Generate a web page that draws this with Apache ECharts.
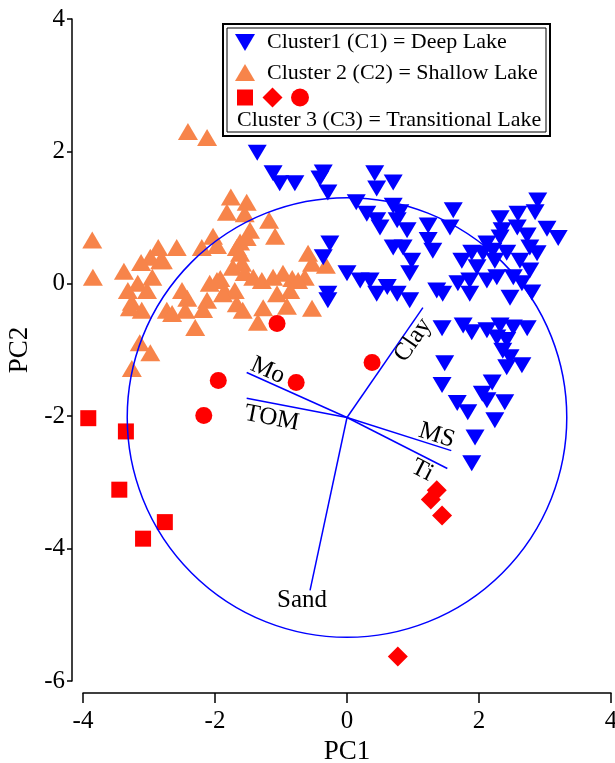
<!DOCTYPE html>
<html><head><meta charset="utf-8">
<script src="https://cdn.jsdelivr.net/npm/echarts@6/dist/echarts.min.js"></script>
<style>html,body{margin:0;padding:0;background:#fff}#c{width:615px;height:763px}</style>
</head><body><div id="c"></div>
<script>
// ---- data (PC1, PC2) ----
const xRange=[-4,4], yRange=[-6,4], tickStep=2;
const cluster1=[ // Deep Lake
[-1.36,1.98],[-1.12,1.67],[-1.02,1.52],[-0.79,1.52],[-0.36,1.68],[-0.41,1.59],[-0.29,1.38],
[0.42,1.67],[0.45,1.44],[0.70,1.53],[0.14,1.23],[0.30,1.06],[0.45,0.96],[0.70,1.18],[0.80,1.08],
[0.50,0.85],[0.76,0.96],[0.91,0.81],[1.23,0.88],[0.70,0.55],[0.85,0.55],[0.98,0.35],[0.95,0.16],
[1.23,0.66],[1.30,0.50],[-0.26,0.61],[-0.36,0.40],[0.00,0.16],[0.20,0.05],[0.35,0.05],[0.45,-0.15],
[0.61,-0.05],[0.76,-0.15],[0.95,-0.25],[-0.29,-0.15],[-0.29,-0.25],[1.36,-0.10],[1.61,1.11],[1.56,0.85],
[2.89,1.26],[2.85,1.08],[2.59,1.06],[2.32,0.99],[2.35,0.81],[2.58,0.85],[3.03,0.83],[3.20,0.69],
[2.73,0.73],[2.12,0.61],[1.89,0.47],[1.74,0.35],[1.97,0.25],[2.24,0.35],[2.42,0.47],[2.62,0.35],
[2.77,0.20],[2.65,0.01],[2.80,-0.13],[2.47,-0.21],[2.27,0.10],[2.12,0.05],[1.86,0.05],[1.68,0.01],
[1.45,-0.15],[1.86,-0.15],[2.77,0.55],[2.88,0.46],[2.52,0.10],[2.32,0.70],[2.06,0.46],[2.21,0.50],
[1.44,-0.67],[1.76,-0.63],[1.89,-0.73],[2.12,-0.70],[2.32,-0.63],[2.52,-0.66],[2.73,-0.67],[2.27,-0.81],
[2.42,-0.85],[2.36,-1.01],[2.47,-1.11],[2.65,-1.23],[2.42,-1.26],[1.48,-1.20],[1.44,-1.53],[1.67,-1.80],
[1.83,-1.94],[2.20,-1.49],[2.05,-1.66],[2.12,-1.76],[2.39,-1.79],[2.24,-2.06],[1.94,-2.32],[1.89,-2.71]
];
const cluster2=[ // Shallow Lake
[-2.41,2.30],[-2.12,2.21],[-3.86,0.66],[-3.85,0.10],[-1.76,1.31],[-1.52,1.23],[-1.82,1.08],[-1.55,1.06],
[-1.18,0.96],[-1.09,0.72],[-2.03,0.72],[-2.20,0.55],[-2.58,0.55],[-2.86,0.55],[-2.98,0.40],[-3.12,0.32],
[-3.38,0.19],[-3.32,-0.10],[-3.17,0.01],[-2.95,0.10],[-2.79,0.35],[-3.03,-0.10],[-3.26,-0.28],[-3.11,-0.40],
[-2.73,-0.40],[-2.50,-0.10],[-2.42,-0.22],[-2.45,-0.40],[-2.30,-0.66],[-2.12,-0.25],[-2.18,-0.39],[-2.08,0.01],
[-1.92,0.08],[-1.85,-0.11],[-1.70,-0.10],[-3.14,-0.89],[-2.98,-1.04],[-3.26,-1.28],[-1.97,0.58],[-1.67,0.55],
[-1.73,0.25],[-1.47,0.81],[-1.62,0.63],[-1.52,0.70],[-1.62,0.46],[-1.59,0.31],[-1.55,0.17],[-1.42,0.10],
[-1.29,0.05],[-1.12,0.10],[-0.97,0.16],[-0.83,0.08],[-0.64,0.10],[-0.59,0.46],[-0.53,0.31],[-0.32,0.28],
[-0.86,-0.10],[-1.06,-0.15],[-1.27,-0.36],[-0.91,-0.34],[-0.53,-0.37],[-1.97,0.05],[-1.88,-0.15],[-1.67,-0.30],
[-1.58,-0.40],[-1.35,-0.58],[-2.65,-0.45],[-3.29,-0.36],[-2.83,0.35],[-0.74,0.05]
];
const cluster3Squares=[[-3.92,-2.03],[-3.35,-2.23],[-3.45,-3.11],[-3.09,-3.85],[-2.76,-3.60]];
const cluster3Diamonds=[[1.36,-3.12],[1.27,-3.26],[1.44,-3.50],[0.77,-5.63]];
const cluster3Circles=[[-1.06,-0.60],[-1.95,-1.46],[-0.77,-1.49],[-2.17,-1.99],[0.38,-1.19]];
const vectorNames=['Clay','MS','Ti','Mo','TOM','Sand'];
const vectorEnds=[[1.15,-0.36],[1.58,-2.52],[1.52,-2.79],[-1.52,-1.34],[-1.52,-1.73],[-0.56,-4.63]];
const vectorLabelAt=[[1.00,-0.85],[1.36,-2.29],[1.14,-2.82],[-1.20,-1.31],[-1.14,-2.03],[-0.68,-4.78]];
const vectorLabelAlong=[true,true,true,true,true,false];
const vectorOrigin=[0,-2.02];
const circleRadius=3.33;

const BLUE='#0000ff', ORANGE='#f7844a', RED='#ff0000';
const SERIF='"Liberation Serif","Times New Roman",serif';

const chart=echarts.init(document.getElementById('c'),null,{renderer:'canvas'});
const axisCommon={
  axisLine:{show:true,onZero:false,lineStyle:{color:'#000',width:1.5}},
  splitLine:{show:false},
  axisLabel:{color:'#000',fontSize:25,fontFamily:SERIF},
  nameTextStyle:{color:'#000',fontSize:27,fontFamily:SERIF},
  nameLocation:'middle'
};
chart.setOption({
  animation:false,
  backgroundColor:'#fff',
  grid:{left:83,right:4,top:19,bottom:82,containLabel:false,outerBoundsMode:'none'},
  xAxis:Object.assign({},axisCommon,{type:'value',min:xRange[0],max:xRange[1],interval:tickStep,offset:12,
    axisTick:{show:true,length:10,lineStyle:{color:'#000',width:1.5}},
    axisLabel:Object.assign({},axisCommon.axisLabel,{margin:16}),
    name:'PC1',nameGap:34}),
  yAxis:Object.assign({},axisCommon,{type:'value',min:yRange[0],max:yRange[1],interval:tickStep,offset:11,
    axisTick:{show:true,length:5,lineStyle:{color:'#000',width:1.5}},
    axisLabel:Object.assign({},axisCommon.axisLabel,{margin:7}),
    name:'PC2',nameGap:32}),
  series:[
    {type:'scatter',name:'C2',data:cluster2,symbol:'triangle',symbolSize:[20,17],
     itemStyle:{color:ORANGE,opacity:1},z:2,silent:true},
    {type:'scatter',name:'C1',data:cluster1,symbol:'triangle',symbolRotate:180,symbolSize:[19,16],
     itemStyle:{color:BLUE,opacity:1},z:3,silent:true},
    {type:'scatter',name:'C3sq',data:cluster3Squares,symbol:'rect',symbolSize:16,
     itemStyle:{color:RED,opacity:1},z:4,silent:true},
    {type:'scatter',name:'C3di',data:cluster3Diamonds,symbol:'diamond',symbolSize:[20,20],
     itemStyle:{color:RED,opacity:1},z:4,silent:true},
    {type:'scatter',name:'C3ci',data:cluster3Circles,symbol:'circle',symbolSize:17,
     itemStyle:{color:RED,opacity:1},z:4,silent:true},
    {type:'custom',name:'circle',z:5,silent:true,clip:false,
     data:[[vectorOrigin[0],vectorOrigin[1],circleRadius]],
     encode:{x:0,y:1},
     renderItem:function(params,api){
       const c=api.coord([api.value(0),api.value(1)]);
       const r=api.size([api.value(2),0])[0];
       return {type:'circle',shape:{cx:c[0],cy:c[1],r:r},style:{fill:'none',stroke:BLUE,lineWidth:1.5}};
     }},
    {type:'custom',name:'vectors',z:6,silent:true,clip:false,
     data:vectorNames.map((n,i)=>[vectorEnds[i][0],vectorEnds[i][1],vectorLabelAt[i][0],vectorLabelAt[i][1],i]),
     encode:{x:0,y:1},
     renderItem:function(params,api){
       const i=api.value(4);
       const o=api.coord(vectorOrigin);
       const e=api.coord([api.value(0),api.value(1)]);
       const l=api.coord([api.value(2),api.value(3)]);
       let dx=e[0]-o[0], dy=e[1]-o[1];
       if(dx<0){dx=-dx;dy=-dy;}
       const rot=vectorLabelAlong[i]?Math.atan2(-dy,dx):0;
       return {type:'group',children:[
         {type:'line',shape:{x1:o[0],y1:o[1],x2:e[0],y2:e[1]},style:{stroke:BLUE,lineWidth:1.5}},
         {type:'text',x:l[0],y:l[1],rotation:rot,
          style:{text:vectorNames[i],fill:'#000',fontSize:25,fontFamily:SERIF,
                 align:'center',verticalAlign:'middle',textAlign:'center',textVerticalAlign:'middle'}}
       ]};
     }}
  ],
  graphic:[
    {type:'rect',z:100,shape:{x:223,y:24,width:327,height:112},style:{fill:'#fff',stroke:'#000',lineWidth:2}},
    {type:'rect',z:101,shape:{x:227,y:28,width:319,height:104},style:{fill:'none',stroke:'#000',lineWidth:1}},
    {type:'polygon',z:102,shape:{points:[[235,34],[255,34],[245,51]]},style:{fill:BLUE}},
    {type:'text',z:102,x:267,y:42,style:{text:'Cluster1 (C1) = Deep Lake',fill:'#000',fontSize:22,fontFamily:SERIF,verticalAlign:'middle',textVerticalAlign:'middle'}},
    {type:'polygon',z:102,shape:{points:[[235,81],[255,81],[245,64]]},style:{fill:ORANGE}},
    {type:'text',z:102,x:267,y:73,style:{text:'Cluster 2 (C2) = Shallow Lake',fill:'#000',fontSize:22,fontFamily:SERIF,verticalAlign:'middle',textVerticalAlign:'middle'}},
    {type:'rect',z:102,shape:{x:237,y:89.5,width:16,height:16},style:{fill:RED}},
    {type:'polygon',z:102,shape:{points:[[272.5,87.5],[282.5,97.5],[272.5,107.5],[262.5,97.5]]},style:{fill:RED}},
    {type:'circle',z:102,shape:{cx:300,cy:97.5,r:9},style:{fill:RED}},
    {type:'text',z:102,x:237,y:120,style:{text:'Cluster 3 (C3) = Transitional Lake',fill:'#000',fontSize:22,fontFamily:SERIF,verticalAlign:'middle',textVerticalAlign:'middle'}}
  ]
});
</script></body></html>
